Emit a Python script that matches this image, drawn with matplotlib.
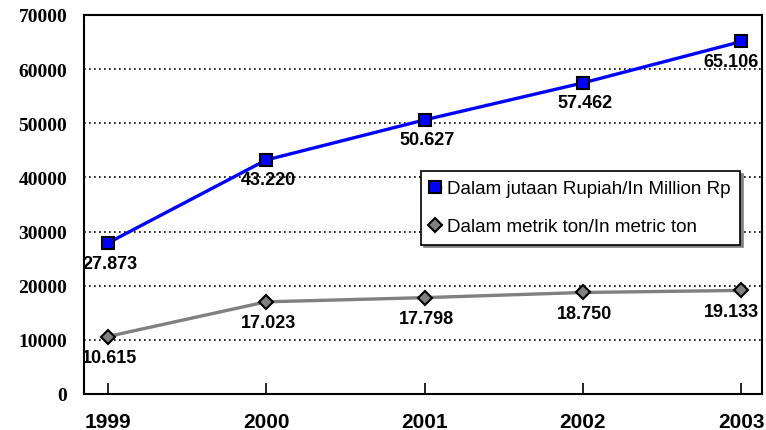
import numpy as np
from matplotlib import pyplot as plt

years = ['1999', '2000', '2001', '2002', '2003']
rupiah = [27873, 43220, 50627, 57462, 65106]
metric_ton = [10615, 17023, 17798, 18750, 19133]
rupiah_labels = ['27.873', '43.220', '50.627', '57.462', '65.106']
ton_labels = ['10.615', '17.023', '17.798', '18.750', '19.133']

W, H = 766, 431
fig = plt.figure(figsize=(W / 100, H / 100), dpi=100)
ax = fig.add_axes([84 / W, 1 - 395 / H, (762 - 84) / W, (395 - 16) / H])

x = np.arange(len(years))
ax.plot(x, rupiah, color='#0000ff', lw=2.4, marker='s', ms=9, mfc='#0000ff',
        mec='black', mew=1.5, label='Dalam jutaan Rupiah/In Million Rp', zorder=4)
ax.plot(x, metric_ton, color='#808080', lw=2.4, marker='D', ms=7, mfc='#808080',
        mec='black', mew=1.5, label='Dalam metrik ton/In metric ton', zorder=4)

# last labels are pushed left so they stay inside the plot, as in the original
dx = [2, 2, 2, 2, -10]
for xi, v, t, d in zip(x, rupiah, rupiah_labels, dx):
    ax.annotate(t, (xi, v), xytext=(d, -20), textcoords='offset pixels', ha='center', va='center',
                fontsize=13, fontweight='bold', family='Liberation Sans', zorder=5)
for xi, v, t, d in zip(x, metric_ton, ton_labels, dx):
    ax.annotate(t, (xi, v), xytext=(d, -21), textcoords='offset pixels', ha='center', va='center',
                fontsize=13, fontweight='bold', family='Liberation Sans', zorder=5)

ax.set_xlim(-0.15, 4.13)
ax.set_ylim(0, 70000)
ax.set_yticks(np.arange(0, 70001, 10000))
ax.set_yticklabels([str(v) for v in range(0, 70001, 10000)], family='Liberation Serif',
                   fontweight='bold', fontsize=14)
ax.set_xticks(x)
ax.set_xticklabels(years, family='Liberation Sans', fontweight='bold', fontsize=15)
ax.tick_params(axis='x', direction='in', length=8, width=1.2, pad=13)
ax.tick_params(axis='y', length=0, pad=12)
ax.grid(axis='y', color='black', linestyle=(0, (1, 2)), lw=1.2)
for s in ax.spines.values():
    s.set_linewidth(1.5)

leg = ax.legend(loc='upper right', bbox_to_anchor=(740 / W, 1 - 172 / H),
                bbox_transform=fig.transFigure, prop={'family': 'Liberation Sans', 'size': 13.5},
                frameon=True, fancybox=False, shadow={'color': '#808080', 'alpha': 1},
                edgecolor='black', handlelength=0.5, handletextpad=0.4,
                borderpad=0.5, labelspacing=1.1, borderaxespad=0)
leg.get_frame().set_linewidth(1.2)

fig.savefig('out.png', dpi=100)
